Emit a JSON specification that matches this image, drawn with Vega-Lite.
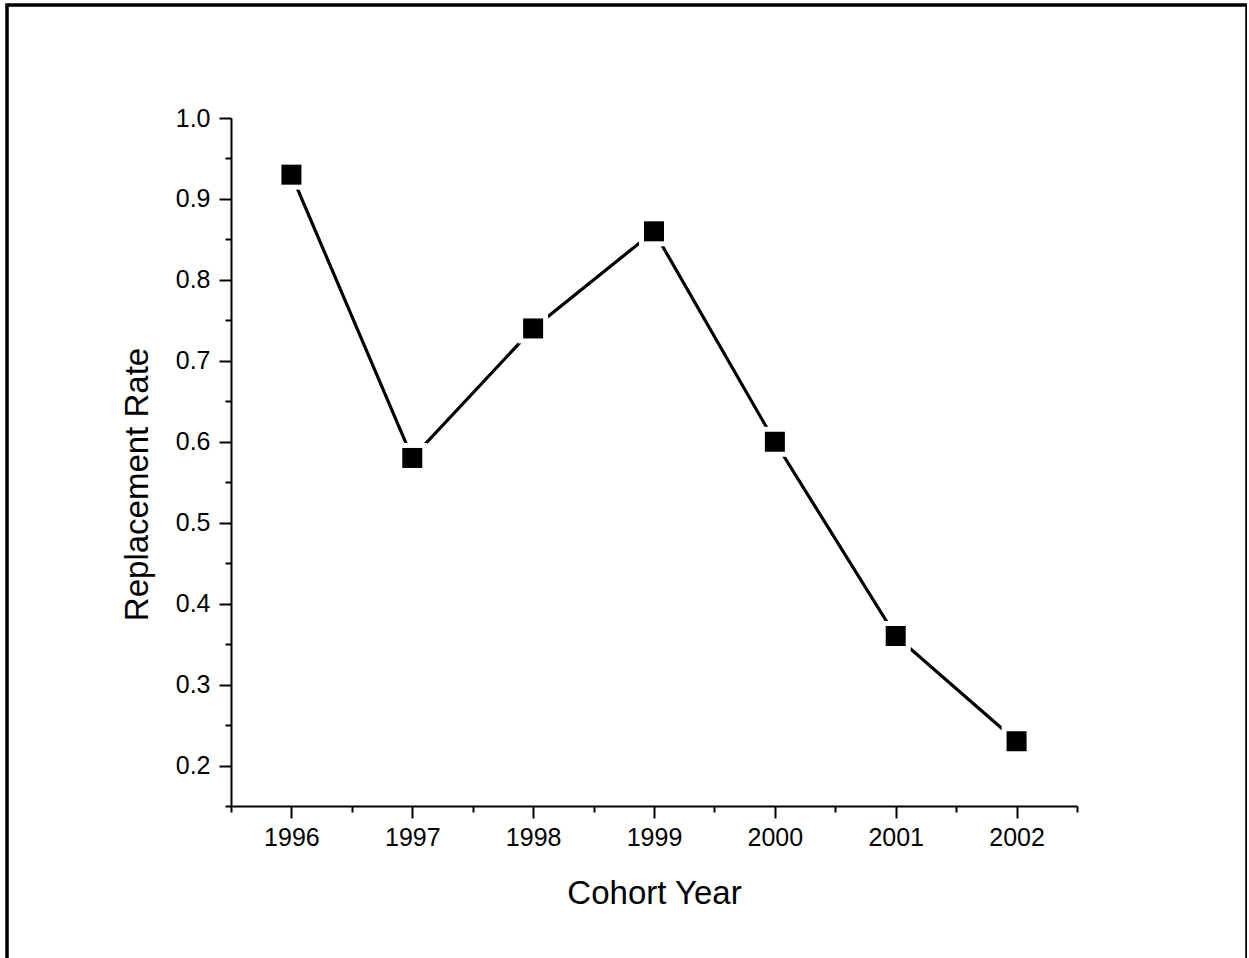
{
  "$schema": "https://vega.github.io/schema/vega-lite/v6.json",
  "width": 1240,
  "height": 1000,
  "autosize": {"type": "none"},
  "padding": {"left": 7, "top": 5, "right": 0, "bottom": 0},
  "background": "white",
  "view": {"stroke": "black", "strokeWidth": 3.5},
  "config": {
    "font": "Liberation Sans"
  },
  "data": {
    "values": [
      {"year": 1996, "rate": 0.93},
      {"year": 1997, "rate": 0.58},
      {"year": 1998, "rate": 0.74},
      {"year": 1999, "rate": 0.86},
      {"year": 2000, "rate": 0.60},
      {"year": 2001, "rate": 0.36},
      {"year": 2002, "rate": 0.23}
    ]
  },
  "encoding": {
    "x": {
      "field": "year",
      "type": "quantitative",
      "scale": {"domain": [1995.5, 2002.5], "range": [224, 1070], "nice": false, "zero": false},
      "axis": {
        "orient": "bottom",
        "offset": -199,
        "values": [1995.5, 1996, 1996.5, 1997, 1997.5, 1998, 1998.5, 1999, 1999.5, 2000, 2000.5, 2001, 2001.5, 2002, 2002.5],
        "labelExpr": "datum.value % 1 == 0 ? format(datum.value, 'd') : ''",
        "tickSize": {"condition": {"test": "datum.value % 1 != 0", "value": 6}, "value": 12},
        "tickWidth": 2,
        "tickColor": "black",
        "domainColor": "black",
        "domainWidth": 2,
        "grid": false,
        "labelFont": "Liberation Sans",
        "labelFontSize": 25,
        "labelColor": "#000",
        "labelPadding": 7,
        "labelFlush": false,
        "labelOverlap": false,
        "title": "Cohort Year",
        "titleFont": "Liberation Sans",
        "titleFontSize": 33,
        "titleFontWeight": "normal",
        "titleColor": "#000",
        "titleBaseline": "alphabetic",
        "titleY": 97
      }
    },
    "y": {
      "field": "rate",
      "type": "quantitative",
      "scale": {"domain": [0.15, 1.0], "range": [801, 113], "nice": false, "zero": false},
      "axis": {
        "orient": "left",
        "offset": -224,
        "values": [0.15, 0.2, 0.25, 0.3, 0.35, 0.4, 0.45, 0.5, 0.55, 0.6, 0.65, 0.7, 0.75, 0.8, 0.85, 0.9, 0.95, 1.0],
        "labelExpr": "round(datum.value * 100) % 10 == 0 ? format(datum.value, '.1f') : ''",
        "tickSize": {"condition": {"test": "round(datum.value * 100) % 10 != 0", "value": 6}, "value": 12},
        "tickWidth": 2,
        "tickColor": "black",
        "domainColor": "black",
        "domainWidth": 2,
        "grid": false,
        "labelFont": "Liberation Sans",
        "labelFontSize": 25,
        "labelColor": "#000",
        "labelPadding": 9,
        "labelFlush": false,
        "labelOverlap": false,
        "title": "Replacement Rate",
        "titleFont": "Liberation Sans",
        "titleFontSize": 33,
        "titleFontWeight": "normal",
        "titleColor": "#000",
        "titleAngle": -90,
        "titleAlign": "center",
        "titleBaseline": "alphabetic",
        "titleX": -84,
        "titleY": 479
      }
    }
  },
  "layer": [
    {"mark": {"type": "line", "color": "black", "strokeWidth": 3.2}},
    {"mark": {"type": "point", "shape": "square", "filled": true, "color": "white", "size": 900, "opacity": 1}},
    {"mark": {"type": "point", "shape": "square", "filled": true, "color": "black", "size": 400, "opacity": 1}}
  ]
}
